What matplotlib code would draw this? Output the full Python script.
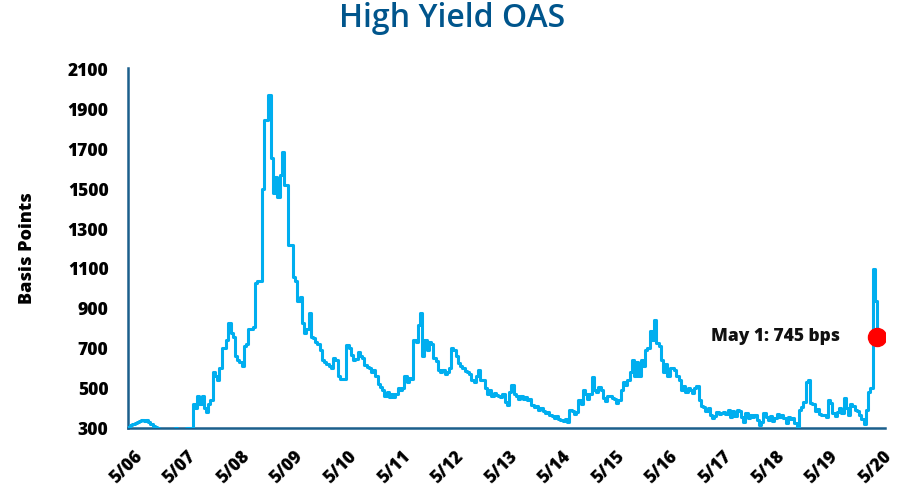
import numpy as np
import matplotlib
matplotlib.use("Agg")
import matplotlib.pyplot as plt
import matplotlib.transforms as mtransforms

# Semi-monthly High Yield OAS (bps), each list covers May..May (24 half-months)
oas_2006 = [305, 315, 320, 325, 330, 335, 340, 335, 340, 330, 320, 310,
            305, 300, 295, 290, 280, 275, 270, 270, 285, 300, 285, 270]
oas_2007 = [265, 280, 300, 300, 300, 420, 400, 460, 420, 460, 400, 380,
            420, 440, 580, 560, 540, 600, 700, 700, 740, 830, 780, 760]
oas_2008 = [660, 640, 630, 610, 710, 720, 800, 800, 810, 1030, 1040, 1040,
            1500, 1850, 1850, 1975, 1660, 1480, 1560, 1460, 1570, 1690, 1520, 1520]
oas_2009 = [1220, 1220, 1060, 1040, 940, 960, 830, 780, 800, 880, 760, 750,
            730, 720, 690, 640, 630, 620, 610, 600, 650, 640, 560, 545]
oas_2010 = [545, 545, 715, 700, 665, 640, 645, 680, 660, 650, 615, 605,
            600, 580, 590, 560, 520, 505, 490, 460, 480, 455, 470, 455]
oas_2011 = [470, 500, 490, 500, 560, 530, 550, 545, 740, 730, 820, 880,
            660, 740, 690, 730, 720, 650, 635, 590, 580, 590, 570, 580]
oas_2012 = [600, 700, 690, 660, 625, 610, 600, 585, 580, 570, 540, 530,
            560, 590, 540, 540, 500, 470, 490, 460, 475, 465, 460, 455]
oas_2013 = [470, 430, 415, 480, 515, 470, 460, 445, 460, 445, 455, 440,
            445, 415, 405, 410, 390, 400, 385, 375, 380, 365, 360, 350]
oas_2014 = [360, 345, 340, 335, 345, 330, 390, 385, 370, 380, 440, 420,
            490, 470, 445, 470, 555, 490, 480, 505, 490, 450, 435, 460]
oas_2015 = [460, 450, 445, 425, 440, 490, 530, 515, 540, 580, 640, 560,
            630, 560, 640, 610, 690, 700, 790, 740, 843, 725, 710, 640]
oas_2016 = [580, 620, 560, 600, 600, 590, 560, 540, 490, 510, 480, 500,
            490, 475, 500, 510, 440, 410, 405, 385, 400, 365, 350, 360]
oas_2017 = [380, 370, 375, 380, 370, 390, 355, 385, 360, 390, 385, 355,
            330, 375, 350, 365, 355, 365, 340, 315, 330, 375, 355, 340]
oas_2018 = [360, 335, 350, 370, 355, 365, 350, 325, 355, 345, 350, 325,
            305, 390, 405, 430, 530, 540, 425, 420, 385, 395, 370, 365]
oas_2019 = [365, 355, 440, 425, 375, 360, 380, 400, 375, 450, 400, 365,
            420, 410, 390, 385, 365, 345, 320, 390, 480, 500, 1100, 940]
oas_last = [760]

tick_labels = ["5/06", "5/07", "5/08", "5/09", "5/10", "5/11", "5/12",
               "5/13", "5/14", "5/15", "5/16", "5/17", "5/18", "5/19", "5/20"]
y_ticks = [300, 500, 700, 900, 1100, 1300, 1500, 1700, 1900, 2100]

title = "High Yield OAS"
ylabel = "Basis Points"
note = "May 1: 745 bps"

values = np.array(oas_2006 + oas_2007 + oas_2008 + oas_2009 + oas_2010 +
                  oas_2011 + oas_2012 + oas_2013 + oas_2014 + oas_2015 +
                  oas_2016 + oas_2017 + oas_2018 + oas_2019 + oas_last, dtype=float)
years = np.arange(len(values)) / 24.0

FONT = ["Open Sans", "DejaVu Sans"]
plt.rcParams["font.family"] = FONT

fig = plt.figure(figsize=(9.05, 4.90), dpi=100)
ax = fig.add_axes([128 / 905, 1 - 428 / 490, (885 - 128) / 905, (428 - 68) / 490])

line_color = "#00AEEF"
spine_color = "#1B5F8C"

ax.step(years, values, where="post", color=line_color, lw=2.2, zorder=3)
ax.plot(years[-1], values[-1], "o", color="#FF0000", ms=13, zorder=4)
ax.text(years[-1] - 0.70, values[-1], note, ha="right", va="center",
        fontsize=12.5, fontweight="heavy", color="#111111")

ax.set_xlim(0, 14.15)
ax.set_ylim(300, 2110)
ax.set_yticks(y_ticks)
ax.set_yticklabels([str(v) for v in y_ticks], fontsize=12.5, fontweight="heavy")
ax.set_xticks(np.arange(len(tick_labels)))
ax.set_xticklabels(tick_labels, fontsize=12.5, fontweight="heavy",
                   rotation=45, ha="right", va="top", rotation_mode="anchor")
ax.tick_params(axis="y", length=0, pad=14)
ax.tick_params(axis="x", length=0, pad=14)

offset = mtransforms.ScaledTranslation(6 / 100, 0, fig.dpi_scale_trans)
for lbl in ax.get_xticklabels():
    lbl.set_transform(lbl.get_transform() + offset)

for s in ["top", "right"]:
    ax.spines[s].set_visible(False)
for s in ["left", "bottom"]:
    ax.spines[s].set_color(spine_color)
    ax.spines[s].set_linewidth(1.8)

ax.set_ylabel(ylabel, fontsize=13, fontweight="heavy", labelpad=23)
fig.text(0.5, 0.962, title, ha="center", va="center", fontsize=23,
         fontweight="semibold", color="#00558C")

fig.savefig("out.png", dpi=100)
